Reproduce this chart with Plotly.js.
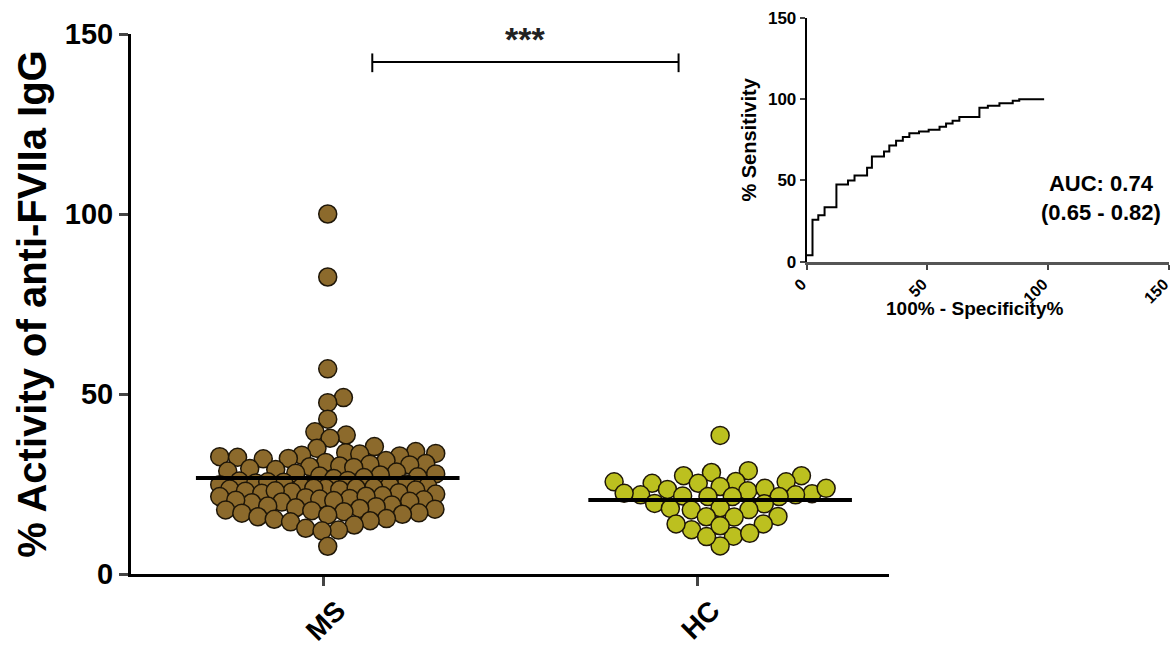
<!DOCTYPE html>
<html>
<head>
<meta charset="utf-8">
<script src="https://cdn.plot.ly/plotly-3.0.1.min.js"></script>
<style>html,body{margin:0;padding:0;background:#fff;}#chart{width:1171px;height:655px;}</style>
</head>
<body>
<div id="chart"></div>
<script>
// ---------------- DATA ----------------
const categories = ['MS', 'HC'];
const msValues = [100, 82.5, 57, 49, 47.6, 43,
  39.5, 38.6, 37.7, 35.4, 34.9,
  34.0, 33.7, 33.5, 33.0, 32.8, 32.6, 32.4, 32.1, 32.0, 33.3,
  31.5, 31.0, 30.7, 30.5, 30.3, 30.0, 29.8, 29.6, 29.3, 29.0,
  28.6, 28.3, 28.0, 27.8, 27.5, 27.2, 27.0, 26.8, 26.5,
  26.0, 25.8, 25.5, 25.3, 25.0, 24.8, 24.6, 24.4, 24.2, 24.0, 25.6,
  23.8, 23.8, 23.6, 23.4, 23.3, 23.0, 22.8, 22.6, 22.4, 22.2, 23.9, 23.1,
  21.8, 21.5, 21.2, 21.0, 20.8, 20.6, 20.4, 20.2, 20.0, 19.8, 21.6, 20.5,
  19.2, 18.9, 18.7, 18.4, 18.2, 18.0, 17.8, 17.6, 17.3, 17.0, 16.9, 16.6, 16.4,
  15.9, 15.4, 15.2, 14.8, 14.5,
  13.6, 12.7, 12.2, 12.0,
  7.7];
const hcValues = [38.5, 28.7, 27.3, 27.3, 28.2, 25.7, 25.6, 25.2, 25.2, 25.6,
  23.1, 22.3, 22.0, 23.8, 23.5, 23.8, 24.3, 22.0, 22.4, 21.7,
  21.5, 21.5, 21.5, 19.6, 19.5, 18.2, 17.8, 18.4, 17.9, 15.9,
  16.0, 15.8, 13.9, 12.3, 10.5, 7.8, 10.4, 11.3, 13.4, 13.9];
const yTickVals = [0, 50, 100, 150];
const rocFpr  = [0, 2.4, 4.8, 7.4, 12.3, 17.1, 19.8, 25.0, 27.0, 32.0, 34.2, 37.0, 39.8, 42.5, 46.5, 50.5, 55.0, 57.7, 60.4, 63.2, 71.5, 75.0, 79.8, 85.3, 88.0, 98.3];
const rocSens = [4, 25.8, 28.6, 33.5, 47.5, 50.0, 53.0, 57.8, 64.8, 67.8, 71.5, 74.5, 76.8, 79.0, 80.2, 81.2, 83.0, 85.0, 86.8, 89.0, 94.8, 96.0, 97.5, 99.0, 100, 100];
const insetTickVals = [0, 50, 100, 150];
const mainYTitle = '% Activity of anti-FVIIa IgG';
const rocXTitle = '100% - Specificity%';
const rocYTitle = '% Sensitivity';
const aucText = 'AUC: 0.74<br>(0.65 - 0.82)';
const sigText = '***';

// ---------------- STYLE / LAYOUT CONSTANTS ----------------
const W = 1171, H = 655;
const FONT = 'Arial, "Liberation Sans", sans-serif';
const mainX = [131, 889], mainY = [574, 34];          // pixel box of main axes
const mainXRange = [-0.5134, 1.511], mainYRange = [0, 150];
const insetX = [806.7, 1169], insetY = [261.7, 18];
const groupShift = [0.012, 0.06];                      // swarm centre offset from tick
const meanHalf = 0.352;
const markerD = 18, swarmD = 16.5;
const maxHalf = [108, 106];                            // px, half-width cap of each swarm
const colors = ['#8c6a2c', '#bcc01f'];

const sx = (mainX[1] - mainX[0]) / (mainXRange[1] - mainXRange[0]);
const sy = (mainY[0] - mainY[1]) / (mainYRange[1] - mainYRange[0]);

// capped beeswarm: closest-to-centre non-overlapping spot, else least-overlapping spot
function swarm(vals, cap) {
  const order = vals.map((v, i) => i).sort((a, b) => vals[a] - vals[b]);
  const placed = [];
  const out = new Array(vals.length);
  order.forEach((i, k) => {
    const y = vals[i] * sy;
    const near = placed.filter(p => Math.abs(p.y - y) < swarmD);
    const cands = [0];
    near.forEach(p => {
      const dx = Math.sqrt(swarmD * swarmD - (p.y - y) * (p.y - y));
      cands.push(p.x + dx, p.x - dx);
    });
    for (let g = -cap; g <= cap; g += 2) cands.push(g);
    const dir = (k % 2) ? 1 : -1;
    const ok = cands.filter(c => Math.abs(c) <= cap + 1e-6);
    const minD = c => near.reduce((m, p) => Math.min(m, Math.hypot(p.x - c, p.y - y)), Infinity);
    const free = ok.filter(c => minD(c) >= swarmD - 1e-6)
      .sort((a, b) => (Math.abs(a) - Math.abs(b)) || dir * (a - b));
    let x;
    if (free.length) x = free[0];
    else x = ok.reduce((best, c) => (minD(c) > minD(best) ? c : best), ok[0]);
    placed.push({ x: x, y: y });
    out[i] = x / sx;
  });
  return out;
}
const mean = a => a.reduce((s, v) => s + v, 0) / a.length;

const groups = [msValues, hcValues];
const traces = [];
groups.forEach((vals, g) => {
  const offs = swarm(vals, maxHalf[g]);
  traces.push({
    type: 'scatter', mode: 'markers', xaxis: 'x', yaxis: 'y',
    x: offs.map(o => g + groupShift[g] + o), y: vals,
    marker: { size: markerD, color: colors[g], line: { color: '#1e1608', width: 1.5 } },
    showlegend: false, hoverinfo: 'y', name: categories[g]
  });
});
groups.forEach((vals, g) => {
  const m = mean(vals);
  const c = g + groupShift[g];
  traces.push({
    type: 'scatter', mode: 'lines', xaxis: 'x', yaxis: 'y',
    x: [c - meanHalf, c + meanHalf], y: [m, m],
    line: { color: '#000', width: 4 }, showlegend: false, hoverinfo: 'skip'
  });
});
traces.push({
  type: 'scatter', mode: 'lines', xaxis: 'x2', yaxis: 'y2',
  x: rocFpr, y: rocSens, line: { color: '#000', width: 2, shape: 'hv' },
  showlegend: false
});

const dom = (a, b, T) => [a / T, b / T];
const layout = {
  width: W, height: H, margin: { l: 0, r: 0, t: 0, b: 0 },
  paper_bgcolor: '#fff', plot_bgcolor: 'rgba(0,0,0,0)',
  font: { family: FONT, color: '#000' },
  xaxis: {
    domain: dom(mainX[0], mainX[1], W), range: mainXRange, anchor: 'y',
    tickvals: [0, 1], ticktext: categories, tickangle: -45,
    tickfont: { size: 28, weight: 'bold' }, ticks: 'outside', ticklen: 9, tickwidth: 3,
    ticklabelshift: 14, ticklabelstandoff: -3,
    showline: true, linewidth: 3, linecolor: '#000', showgrid: false, zeroline: false
  },
  yaxis: {
    domain: [(H - mainY[0]) / H, (H - mainY[1]) / H], range: mainYRange, anchor: 'x',
    tickvals: yTickVals, tickfont: { size: 29, weight: 'bold' },
    ticks: 'outside', ticklen: 9, tickwidth: 3,
    showline: true, linewidth: 3, linecolor: '#000', showgrid: false, zeroline: false,
    title: { text: mainYTitle, font: { size: 40, weight: 'bold' }, standoff: 6 }
  },
  xaxis2: {
    domain: dom(insetX[0], insetX[1], W), range: [0, 150], anchor: 'y2',
    tickvals: insetTickVals, tickangle: -45, tickfont: { size: 16, weight: 'bold' },
    ticklabeloverflow: 'allow', ticklabelshift: -5, ticklabelstandoff: -1,
    ticks: 'outside', ticklen: 5, tickwidth: 2, tickcolor: '#444',
    showline: true, linewidth: 3, linecolor: '#555', showgrid: false, zeroline: false
  },
  yaxis2: {
    domain: [(H - insetY[0]) / H, (H - insetY[1]) / H], range: [0, 150], anchor: 'x2',
    tickvals: insetTickVals, tickfont: { size: 17, weight: 'bold' },
    ticks: 'outside', ticklen: 5, tickwidth: 2,
    showline: true, linewidth: 2, linecolor: '#000', showgrid: false, zeroline: false,
    title: { text: rocYTitle, font: { size: 20, weight: 'bold' }, standoff: 6 }
  },
  shapes: [
    { type: 'line', xref: 'x', yref: 'y', x0: 0.131, x1: 0.949, y0: 142.2, y1: 142.2, line: { color: '#000', width: 2 } },
    { type: 'line', xref: 'x', yref: 'y', x0: 0.131, x1: 0.131, y0: 139.4, y1: 144.6, line: { color: '#000', width: 2 } },
    { type: 'line', xref: 'x', yref: 'y', x0: 0.949, x1: 0.949, y0: 139.4, y1: 144.6, line: { color: '#000', width: 2 } }
  ],
  annotations: [
    { xref: 'x', yref: 'y', x: 0.54, y: 148.5, text: sigText, showarrow: false,
      font: { size: 34, weight: 'bold', color: '#222' }, xanchor: 'center', yanchor: 'middle' },
    { xref: 'x2', yref: 'y2', x: 122, y: 39.5, text: aucText, showarrow: false, align: 'center',
      font: { size: 22, weight: 'bold' }, xanchor: 'center', yanchor: 'middle' },
    { xref: 'paper', yref: 'paper', x: 975 / W, y: 1 - 308 / H, text: rocXTitle, showarrow: false,
      font: { size: 19, weight: 'bold' }, xanchor: 'center', yanchor: 'middle' }
  ]
};
Plotly.newPlot('chart', traces, layout, { staticPlot: true, displayModeBar: false });
</script>
</body>
</html>
